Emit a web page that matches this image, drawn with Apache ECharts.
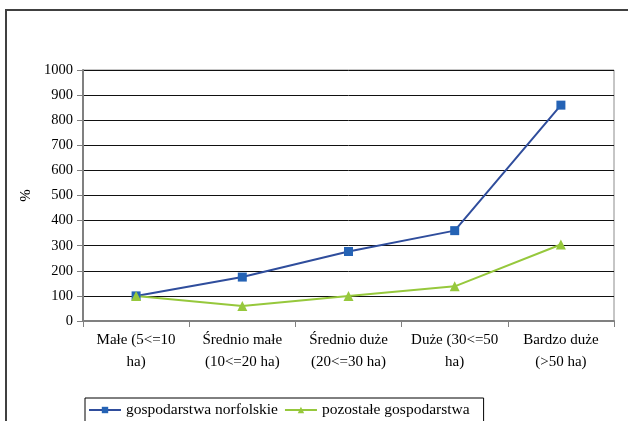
<!DOCTYPE html>
<html>
<head>
<meta charset="utf-8">
<script src="https://cdn.jsdelivr.net/npm/echarts@6/dist/echarts.min.js"></script>
<style>
  html, body { margin: 0; padding: 0; background: #fff; }
  #chart { width: 628px; height: 421px; }
</style>
</head>
<body>
<div id="chart"></div>
<script>
// categories (farm size groups)
const CATEGORIES = [
  'Małe (5<=10\nha)',
  'Średnio małe\n(10<=20 ha)',
  'Średnio duże\n(20<=30 ha)',
  'Duże (30<=50\nha)',
  'Bardzo duże\n(>50 ha)'
]
const NORFOLK = [100, 175, 277, 360, 860]
const OTHER   = [100, 60, 100, 138, 305]
const SERIES_NAMES = ['gospodarstwa norfolskie', 'pozostałe gospodarstwa']

const FONT = '"Liberation Serif", "DejaVu Serif", serif'

const chart = echarts.init(document.getElementById('chart'))
chart.setOption({
  backgroundColor: '#fff',
  animation: false,
  textStyle: { fontFamily: FONT },
  // outer frame of the original picture (clipped at right/bottom)
  graphic: [{
    type: 'rect',
    shape: { x: 6, y: 10, width: 700, height: 500 },
    style: { fill: 'none', stroke: '#404040', lineWidth: 2 },
    silent: true
  }],
  legend: {
    data: SERIES_NAMES,
    left: 85,
    top: 398,
    itemWidth: 32,
    itemHeight: 8,
    itemGap: 6,
    padding: [4, 14, 8, 3],
    borderColor: '#000',
    borderWidth: 1,
    textStyle: { fontFamily: FONT, fontSize: 15.5, color: '#000' }
  },
  grid: {
    left: 83, right: 14, top: 70, bottom: 100,
    show: true, borderColor: '#8c8c8c', borderWidth: 1
  },
  xAxis: {
    type: 'category',
    data: CATEGORIES,
    boundaryGap: true,
    axisLine: { lineStyle: { color: '#808080', width: 2 } },
    axisTick: { show: true, length: 6, lineStyle: { color: '#808080', width: 1 } },
    axisLabel: {
      color: '#000', fontSize: 15, lineHeight: 22, margin: 8,
      interval: 0, fontFamily: FONT
    }
  },
  yAxis: {
    type: 'value',
    min: 0, max: 1000, interval: 100,
    name: '%',
    nameLocation: 'middle',
    nameGap: 46,
    nameRotate: 90,
    nameTextStyle: { color: '#000', fontSize: 15, fontFamily: FONT },
    axisLine: { show: true, lineStyle: { color: '#808080', width: 2 } },
    axisTick: { show: true, length: 6, lineStyle: { color: '#808080' } },
    axisLabel: { color: '#000', fontSize: 14.5, margin: 10, fontFamily: FONT, formatter: v => String(v) },
    splitLine: { lineStyle: { color: '#111', width: 1 } }
  },
  series: [
    {
      name: SERIES_NAMES[0],
      type: 'line',
      data: NORFOLK,
      symbol: 'rect',
      symbolSize: 9,
      lineStyle: { color: '#2f4d9c', width: 2 },
      itemStyle: { color: '#2563b5' }
    },
    {
      name: SERIES_NAMES[1],
      type: 'line',
      data: OTHER,
      symbol: 'triangle',
      symbolSize: 10,
      lineStyle: { color: '#96c83c', width: 2 },
      itemStyle: { color: '#96c83c' }
    }
  ]
})
</script>
</body>
</html>
